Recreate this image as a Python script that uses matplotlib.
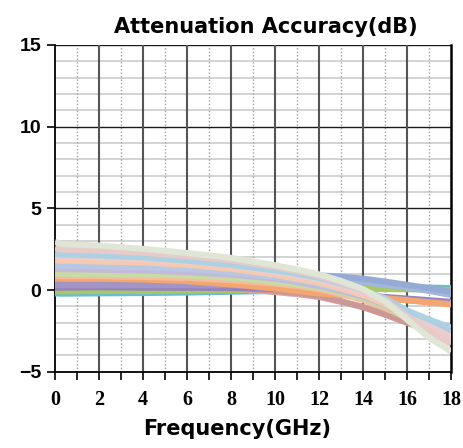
import matplotlib
matplotlib.use('Agg')
import matplotlib.pyplot as plt
from matplotlib.ticker import MultipleLocator

freq = [0, 0.3, 2, 4, 6, 8, 10, 11, 12, 13, 14, 15, 16, 17, 18]

# traces that stay close to 0 dB up to 18 GHz
teal = [-0.2, -0.22, -0.2, -0.18, -0.15, -0.1, -0.05, 0.0, 0.05, 0.1, 0.12, 0.15, 0.15, 0.15, 0.12]
green = [-0.05, -0.08, -0.05, -0.05, -0.03, 0.0, 0.05, 0.08, 0.1, 0.1, 0.08, 0.06, 0.05, 0.03, 0.0]
purple_dark = [0.15, 0.15, 0.17, 0.15, 0.14, 0.12, 0.08, 0.02, -0.08, -0.2, -0.3, -0.42, -0.52, -0.62, -0.72]
purple = [0.32, 0.3, 0.3, 0.3, 0.3, 0.3, 0.3, 0.22, 0.08, -0.12, -0.35, -0.5, -0.62, -0.72, -0.82]
orange = [0.72, 0.7, 0.7, 0.65, 0.55, 0.35, 0.1, -0.05, -0.2, -0.3, -0.4, -0.5, -0.62, -0.75, -0.88]
blue2 = [0.95, 0.92, 0.92, 0.9, 0.88, 0.85, 0.8, 0.75, 0.7, 0.6, 0.48, 0.32, 0.15, -0.05, -0.3]
steel = [1.15, 1.15, 1.15, 1.14, 1.12, 1.08, 1.02, 0.97, 0.9, 0.82, 0.7, 0.52, 0.32, 0.12, -0.1]

# traces that roll off towards -2 ... -4 dB
rosy2 = [0.5, 0.48, 0.5, 0.45, 0.3, 0.1, -0.12, -0.25, -0.42, -0.72, -1.02, -1.42, -1.9, -2.4, -2.75]
rosy = [0.6, 0.58, 0.58, 0.52, 0.4, 0.2, -0.05, -0.18, -0.35, -0.68, -1.05, -1.5, -2.0, -2.45, -2.85]
peach2 = [0.88, 0.85, 0.85, 0.8, 0.75, 0.6, 0.4, 0.25, 0.05, -0.25, -0.6, -1.1, -1.7, -2.3, -2.9]
lgreen = [1.02, 1.0, 0.98, 0.95, 0.9, 0.75, 0.5, 0.35, 0.15, -0.15, -0.5, -1.0, -1.6, -2.2, -2.75]
lavender = [1.3, 1.28, 1.25, 1.2, 1.1, 0.95, 0.7, 0.5, 0.25, -0.05, -0.4, -0.9, -1.6, -2.3, -3.0]
lblue2 = [1.52, 1.5, 1.45, 1.4, 1.3, 1.1, 0.8, 0.6, 0.35, 0.05, -0.3, -0.8, -1.4, -2.0, -2.6]
peach = [1.82, 1.8, 1.75, 1.7, 1.55, 1.3, 0.95, 0.7, 0.45, 0.1, -0.3, -0.85, -1.55, -2.25, -3.05]
pink2 = [2.1, 2.05, 2.0, 1.9, 1.75, 1.5, 1.1, 0.9, 0.6, 0.25, -0.15, -0.7, -1.5, -2.2, -2.85]
lblue = [2.22, 2.18, 2.12, 2.0, 1.8, 1.55, 1.2, 1.0, 0.75, 0.4, 0.0, -0.5, -1.25, -1.8, -2.3]
pink = [2.55, 2.48, 2.42, 2.28, 2.08, 1.82, 1.42, 1.16, 0.86, 0.46, 0.0, -0.62, -1.6, -2.5, -3.3]
graygreen = [2.95, 2.82, 2.72, 2.52, 2.27, 1.97, 1.52, 1.26, 0.96, 0.56, 0.06, -0.7, -1.8, -2.9, -3.75]

# drawing order: first entry is at the bottom of the stack
traces = [
    (teal, '#6bbccf'), (green, '#a8c864'), (rosy2, '#d6a8a6'), (rosy, '#cc9896'),
    (purple_dark, '#9484ba'), (purple, '#a394c6'), (orange, '#f4a670'),
    (blue2, '#a3b6db'), (steel, '#95abd5'),
    (peach2, '#f6bb9c'), (lgreen, '#c7dba2'), (lavender, '#c4b9d9'),
    (lblue2, '#b9c8e2'), (peach, '#f7cab0'), (pink2, '#eccdcd'),
    (lblue, '#acd1e2'), (pink, '#e7cbcb'), (graygreen, '#dfe6d6'),
]

fig = plt.figure(figsize=(4.64, 4.48), dpi=100)
ax = fig.add_axes([0.1185, 0.170, 0.8535, 0.730])

for vals, col in traces:
    ax.plot(freq, vals, color=col, lw=4.4, solid_capstyle='butt', zorder=3)

ax.set_xlim(0, 18)
ax.set_ylim(-5, 15)
ax.xaxis.set_major_locator(MultipleLocator(2))
ax.xaxis.set_minor_locator(MultipleLocator(1))
ax.yaxis.set_major_locator(MultipleLocator(5))
ax.yaxis.set_minor_locator(MultipleLocator(1))

# grid
for y in range(-4, 15):
    if y % 5 != 0:
        ax.axhline(y, color='#cccccc', lw=1.2, zorder=1)
for y in (0, 5, 10, 15):
    ax.axhline(y, color='#1a1a1a', lw=1.0, zorder=1.5)
for x in range(1, 18, 2):
    ax.axvline(x, color='#a0a0a0', lw=1.0, ls=(0, (1, 1.5)), zorder=1.2)
for x in range(2, 18, 2):
    ax.axvline(x, color='#555555', lw=1.5, zorder=1.6)

for s in ['left', 'right', 'bottom']:
    ax.spines[s].set_color('black')
    ax.spines[s].set_linewidth(1.3)
ax.spines['right'].set_linewidth(1.8)
ax.spines['top'].set_visible(False)

ax.tick_params(axis='x', which='both', direction='out', length=6, width=1.2, pad=7)
ax.tick_params(axis='y', which='major', direction='out', length=6, width=1.2, pad=4)
ax.tick_params(axis='y', which='minor', length=0)
for lab in ax.get_xticklabels():
    lab.set_fontfamily('Liberation Serif')
    lab.set_fontweight('bold')
    lab.set_fontsize(14.5)
for lab in ax.get_yticklabels():
    lab.set_fontfamily('Liberation Sans')
    lab.set_fontweight('bold')
    lab.set_fontsize(14)

fig.text(266 / 464, 1 - 33 / 448, 'Attenuation Accuracy(dB)', ha='center',
         va='baseline', fontsize=15, fontweight='bold', family='DejaVu Sans')
fig.text(237 / 464, 1 - 435 / 448, 'Frequency(GHz)', ha='center',
         va='baseline', fontsize=15, fontweight='bold', family='DejaVu Sans')

fig.savefig('out.png', dpi=100)
